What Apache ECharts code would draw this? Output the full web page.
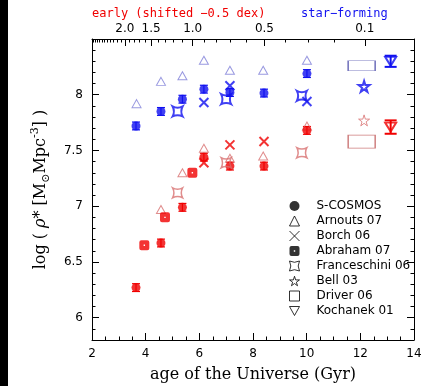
<!DOCTYPE html>
<html>
<head>
<meta charset="utf-8">
<script src="https://cdn.jsdelivr.net/npm/echarts@6/dist/echarts.min.js"></script>
<style>
  html, body { margin: 0; padding: 0; background: #fff; }
  #chart { width: 424px; height: 386px; }
</style>
</head>
<body>
<div id="chart"></div>
<script>
// ---- Stellar mass density vs. cosmic age ----
// Ages in Gyr, values in log(rho*) [Msun Mpc^-3]; early types are shifted by -0.5 dex.

const cosmosAge   = [3.64, 4.57, 5.37, 6.17, 7.14, 8.41, 10.01];
const cosmosSF    = [7.72, 7.85, 7.96, 8.05, 8.02, 8.015, 8.19];
const cosmosEarly = [6.27, 6.67, 6.99, 7.44, 7.36, 7.36, 7.68];
const cosmosErr   = [0.035, 0.035, 0.035, 0.035, 0.035, 0.035, 0.035];

const arnoutsAgeSF    = [3.66, 4.57, 5.37, 6.17, 7.14, 8.38, 10.01];
const arnoutsSF       = [7.92, 8.12, 8.17, 8.31, 8.22, 8.22, 8.31];
const arnoutsAgeEarly = [4.57, 5.37, 6.17, 7.14, 8.38, 10.01];
const arnoutsEarly    = [6.97, 7.30, 7.52, 7.43, 7.45, 7.72];

const borchAgeSF    = [6.17, 7.14, 10.01];
const borchSF       = [7.93, 8.08, 7.94];
const borchAgeEarly = [6.17, 7.14, 8.41];
const borchEarly    = [7.39, 7.55, 7.58];

const abrahamAge   = [3.95, 4.72, 5.74];
const abrahamEarly = [6.65, 6.90, 7.30];

const franceschiniAge   = [5.19, 7.00, 9.82];
const franceschiniSF    = [7.85, 7.96, 7.99];
const franceschiniEarly = [7.12, 7.39, 7.48];

const bellAge   = [12.14];
const bellSF    = [8.075];
const bellEarly = [7.77];

const driverAge   = [12.05];
const driverSF    = [8.26];
const driverEarly = [7.58];

const kochanekAge      = [13.13];
const kochanekSF       = [8.30];
const kochanekEarly    = [7.71];
const kochanekErrSF    = [0.05];
const kochanekErrEarly = [0.06];

// Axis ticks
const rhoMajorTicks = [6, 6.5, 7, 7.5, 8];
const zLabelValues  = [2.0, 1.5, 1.0, 0.5, 0.1];
const zLabelText    = ['2.0', '1.5', '1.0', '0.5', '0.1'];

// Flat LCDM (H0=70, Om=0.3, OL=0.7) age of the Universe at redshift z, in Gyr
function ageAtZ(z) {
  const Om = 0.3, OL = 0.7, hubbleTime = 977.8 / 70;
  return hubbleTime * 2 / (3 * Math.sqrt(OL)) *
    Math.asinh(Math.sqrt(OL / Om) * Math.pow(1 + z, -1.5));
}

const zMajorAges = zLabelValues.map(ageAtZ);
const zMinorAges = [];
for (let i = 1; i <= 31; i++) {
  const z = i / 10;
  if (!zLabelValues.some(v => Math.abs(v - z) < 1e-6)) zMinorAges.push(ageAtZ(z));
}

const rhoMinorTicks = [];
for (let i = 59; i <= 84; i++) {
  const v = i / 10;
  if (!rhoMajorTicks.some(m => Math.abs(m - v) < 1e-6)) rhoMinorTicks.push(v);
}

const BLUE = '#1010f0';
const RED = '#f00000';
const BLUE_LIGHT = '#8080d8';
const RED_LIGHT = '#d87070';

const SYM_X = 'path://M0,0 L10,10 M10,0 L0,10';
const SYM_ABRAHAM = 'path://M2,0 L8,0 Q10,0 10,2 L10,8 Q10,10 8,10 L2,10 Q0,10 0,8 L0,2 Q0,0 2,0 Z M4.3,4.3 L4.3,5.7 L5.7,5.7 L5.7,4.3 Z';
const SYM_FRANC = 'path://M0,0 Q5,2.6 10,0 Q7.4,5 10,10 Q5,7.4 0,10 Q2.6,5 0,0 Z';
const SYM_STAR = 'path://M50,0 L61,35 L98,35 L68,57 L79,91 L50,70 L21,91 L32,57 L2,35 L39,35 Z';
const SYM_DOWN = 'path://M0,0 L10,0 L5,9 Z';

function pts(ages, vals) {
  return ages.map((a, i) => [a, vals[i]]);
}

function scatter(name, ages, vals, symbol, size, itemStyle, z) {
  return {
    type: 'scatter', name: name, xAxisIndex: 0, yAxisIndex: 0,
    data: pts(ages, vals), symbol: symbol, symbolSize: size,
    itemStyle: itemStyle, z: z || 3, silent: true
  };
}

function errorBars(ages, vals, errs, color, capHalf, width) {
  return {
    type: 'custom', xAxisIndex: 0, yAxisIndex: 0, silent: true, z: 2,
    data: ages.map((a, i) => [a, vals[i], errs[i]]),
    encode: { x: 0, y: 1 },
    renderItem: function (params, api) {
      const x = api.value(0), y = api.value(1), e = api.value(2);
      const hi = api.coord([x, y + e]);
      const lo = api.coord([x, y - e]);
      const st = { stroke: color, lineWidth: width };
      return {
        type: 'group',
        children: [
          { type: 'line', shape: { x1: hi[0], y1: hi[1], x2: lo[0], y2: lo[1] }, style: st },
          { type: 'line', shape: { x1: hi[0] - capHalf, y1: hi[1], x2: hi[0] + capHalf, y2: hi[1] }, style: st },
          { type: 'line', shape: { x1: lo[0] - capHalf, y1: lo[1], x2: lo[0] + capHalf, y2: lo[1] }, style: st }
        ]
      };
    }
  };
}

const hollow = (c, w) => ({ color: 'transparent', borderColor: c, borderWidth: w });

const tickFont = { fontFamily: 'DejaVu Sans', fontSize: 12, color: '#000' };

const chart = echarts.init(document.getElementById('chart'), null, { renderer: 'canvas' });

chart.setOption({
  animation: false,
  backgroundColor: '#fff',
  grid: { left: 92, right: 10, top: 39, bottom: 46, outerBoundsMode: 'none' },
  xAxis: [
    {
      type: 'value', position: 'bottom', min: 2, max: 14, interval: 2,
      axisLine: { show: true, lineStyle: { color: '#000', width: 1 } },
      axisTick: { show: true, inside: true, length: 7, lineStyle: { color: '#000' } },
      minorTick: { show: true, splitNumber: 4, length: 3.5, lineStyle: { color: '#000' } },
      splitLine: { show: false },
      axisLabel: Object.assign({ margin: 8 }, tickFont),
      name: 'age of the Universe (Gyr)', nameLocation: 'middle', nameGap: 27,
      nameTextStyle: { fontFamily: 'DejaVu Serif', fontSize: 16, color: '#000' }
    },
    {
      type: 'value', position: 'top', min: 2, max: 14,
      axisLine: { show: true, lineStyle: { color: '#000', width: 1 } },
      axisTick: { show: true, inside: true, length: 7, customValues: zMajorAges, lineStyle: { color: '#000' } },
      axisLabel: Object.assign({
        margin: 4, customValues: zMajorAges,
        formatter: function (v) {
          let best = 0;
          zMajorAges.forEach((a, i) => { if (Math.abs(a - v) < Math.abs(zMajorAges[best] - v)) best = i; });
          return zLabelText[best];
        }
      }, tickFont),
      splitLine: { show: false }
    },
    {
      type: 'value', position: 'top', min: 2, max: 14,
      axisLine: { show: false },
      axisTick: { show: true, inside: true, length: 3.5, customValues: zMinorAges, lineStyle: { color: '#000' } },
      axisLabel: { show: false },
      splitLine: { show: false }
    }
  ],
  yAxis: [
    {
      type: 'value', position: 'left', min: 5.8, max: 8.5,
      axisLine: { show: true, lineStyle: { color: '#000', width: 1 } },
      axisTick: { show: true, inside: true, length: 7, customValues: rhoMajorTicks, lineStyle: { color: '#000' } },
      axisLabel: Object.assign({ margin: 9, customValues: rhoMajorTicks }, tickFont),
      splitLine: { show: false },
      name: '{t|log ( }{g|ρ}{t|* [M}{sub|⊙}{t|Mpc}{sup|-3}{t|] )}',
      nameLocation: 'middle', nameGap: 40, nameRotate: 90,
      nameTextStyle: {
        color: '#000',
        rich: {
          t: { fontFamily: 'DejaVu Serif', fontSize: 16, color: '#000', lineHeight: 22 },
          g: { fontFamily: 'DejaVu Serif', fontStyle: 'italic', fontSize: 16, color: '#000', lineHeight: 22 },
          sub: { fontFamily: 'DejaVu Serif', fontSize: 11, color: '#000', lineHeight: 12, verticalAlign: 'bottom' },
          sup: { fontFamily: 'DejaVu Serif', fontSize: 11, color: '#000', lineHeight: 12, verticalAlign: 'top' }
        }
      }
    },
    {
      type: 'value', position: 'left', min: 5.8, max: 8.5,
      axisLine: { show: false },
      axisTick: { show: true, inside: true, length: 3.5, customValues: rhoMinorTicks, lineStyle: { color: '#000' } },
      axisLabel: { show: false }, splitLine: { show: false }
    },
    {
      type: 'value', position: 'right', min: 5.8, max: 8.5,
      axisLine: { show: true, lineStyle: { color: '#000', width: 1 } },
      axisTick: { show: true, inside: true, length: 7, customValues: rhoMajorTicks, lineStyle: { color: '#000' } },
      axisLabel: { show: false }, splitLine: { show: false }
    },
    {
      type: 'value', position: 'right', min: 5.8, max: 8.5,
      axisLine: { show: false },
      axisTick: { show: true, inside: true, length: 3.5, customValues: rhoMinorTicks, lineStyle: { color: '#000' } },
      axisLabel: { show: false }, splitLine: { show: false }
    }
  ],
  legend: {
    orient: 'vertical', left: 289, top: 200, padding: 0,
    itemWidth: 10, itemHeight: 10, itemGap: 3,
    selectedMode: false,
    textStyle: { fontFamily: 'DejaVu Sans', fontSize: 12, color: '#000', lineHeight: 10, padding: [0, 0, 0, 12] },
    data: [
      { name: 'S-COSMOS', icon: 'circle', itemStyle: { color: '#000', borderWidth: 0 } },
      { name: 'Arnouts 07', icon: 'triangle', itemStyle: hollow('#000', 1) },
      { name: 'Borch 06', icon: SYM_X, itemStyle: hollow('#000', 1) },
      { name: 'Abraham 07', icon: SYM_ABRAHAM, itemStyle: { color: '#000', borderWidth: 0 } },
      { name: 'Franceschini 06', icon: SYM_FRANC, itemStyle: hollow('#000', 1) },
      { name: 'Bell 03', icon: SYM_STAR, itemStyle: hollow('#000', 1) },
      { name: 'Driver 06', icon: 'rect', itemStyle: hollow('#000', 1) },
      { name: 'Kochanek 01', icon: SYM_DOWN, itemStyle: hollow('#000', 1) }
    ]
  },
  graphic: [
    { type: 'rect', left: 0, top: 0, shape: { width: 8, height: 386 }, style: { fill: '#000' }, silent: true },
    { type: 'text', left: 92, top: 8, style: { text: 'early (shifted \u22120.5 dex)', fill: RED, font: '12px "DejaVu Sans Mono"' }, silent: true },
    { type: 'text', left: 301, top: 8, style: { text: 'star\u2212forming', fill: BLUE, font: '12px "DejaVu Sans Mono"' }, silent: true }
  ],
  series: [
    // error bars
    errorBars(cosmosAge, cosmosSF, cosmosErr, BLUE, 4, 1.2),
    errorBars(cosmosAge, cosmosEarly, cosmosErr, RED, 4, 1.2),
    errorBars(kochanekAge, kochanekSF, kochanekErrSF, BLUE, 6, 2),
    errorBars(kochanekAge, kochanekEarly, kochanekErrEarly, RED, 6, 2),

    // star-forming
    scatter('Arnouts 07', arnoutsAgeSF, arnoutsSF, 'triangle', [9, 8], hollow(BLUE_LIGHT, 1)),
    scatter('Driver 06', driverAge, driverSF, 'rect', [27, 10], hollow('#5a5ab0', 1)),
    scatter('S-COSMOS', cosmosAge, cosmosSF, 'circle', 9, { color: BLUE }),
    scatter('Borch 06', borchAgeSF, borchSF, SYM_X, 9, hollow(BLUE, 2)),
    scatter('Franceschini 06', franceschiniAge, franceschiniSF, SYM_FRANC, 10, hollow(BLUE, 2)),
    scatter('Bell 03', bellAge, bellSF, SYM_STAR, 11, hollow(BLUE, 2)),
    scatter('Kochanek 01', kochanekAge, kochanekSF, SYM_DOWN, [11, 9], hollow(BLUE, 2)),

    // early types
    scatter('Arnouts 07', arnoutsAgeEarly, arnoutsEarly, 'triangle', [9, 8], hollow(RED_LIGHT, 1)),
    scatter('Driver 06', driverAge, driverEarly, 'rect', [27, 13], hollow('#c05a5a', 1)),
    scatter('S-COSMOS', cosmosAge, cosmosEarly, 'circle', 9, { color: RED }),
    scatter('Abraham 07', abrahamAge, abrahamEarly, SYM_ABRAHAM, 10, { color: RED }),
    scatter('Borch 06', borchAgeEarly, borchEarly, SYM_X, 9, hollow(RED, 2)),
    scatter('Franceschini 06', franceschiniAge, franceschiniEarly, SYM_FRANC, 10, hollow(RED_LIGHT, 1.5)),
    scatter('Bell 03', bellAge, bellEarly, SYM_STAR, 11, hollow(RED_LIGHT, 1)),
    scatter('Kochanek 01', kochanekAge, kochanekEarly, SYM_DOWN, [11, 9], hollow(RED, 2))
  ]
});
</script>
</body>
</html>
